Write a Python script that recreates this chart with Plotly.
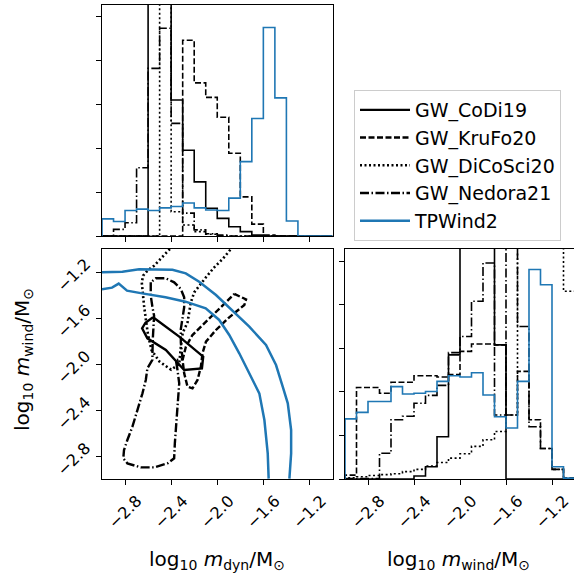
import plotly.graph_objects as go

# ---------------- data ----------------
BIN_EDGES = [-3.0, -2.9, -2.8, -2.7, -2.6, -2.5, -2.4, -2.3, -2.2, -2.1, -2.0,
             -1.9, -1.8, -1.7, -1.6, -1.5, -1.4, -1.3, -1.2, -1.1, -1.0]

# marginal histograms of log10 m_dyn (top panel); values above the axis top are clipped peaks
MDYN_CODI19 = [0, 0, 0, 0, 8, 8, 3.09, 1.95, 1.23, 0.63, 0.40, 0.21, 0.10, 0.02, 0, 0, 0, 0, 0, 0]
MDYN_KRUFO20 = [0, 0, 0, 0, 0, 0, 0, 4.45, 3.48, 3.15, 2.70, 1.88, 0.89, 0.27, 0.02, 0, 0, 0, 0, 0]
MDYN_DICOSCI20 = [0, 0, 0, 0, 0, 8, 0.55, 0.25, 0.10, 0.04, 0, 0, 0, 0, 0, 0, 0, 0, 0, 0]
MDYN_NEDORA21 = [0, 0.15, 0.30, 1.55, 3.81, 4.72, 2.56, 0.52, 0.14, 0.05, 0.02, 0, 0, 0, 0, 0, 0, 0, 0, 0]
MDYN_TPWIND2 = [0.39, 0.33, 0.58, 0.61, 0.58, 0.64, 0.67, 0.75, 0.64, 0.59, 0.58, 0.86, 1.69, 2.67,
                4.74, 3.14, 0.34, 0, 0, 0]

# marginal histograms of log10 m_wind (right panel)
MWIND_CODI19 = [0, 0, 0, 0, 0, 0, 0.07, 0.28, 0.97, 2.85, 8, 8, 8, 3.08, 0, 0, 0, 0, 0, 0]
MWIND_KRUFO20 = [0.09, 2.10, 2.10, 1.97, 2.22, 2.22, 2.37, 2.37, 2.34, 2.40, 2.93, 3.10, 3.10, 3.08,
                 1.47, 2.47, 1.36, 0.70, 0.22, 0.02]
MWIND_DICOSCI20 = [0.03, 0.05, 0.08, 0.10, 0.12, 0.17, 0.22, 0.30, 0.38, 0.48, 0.58, 0.75, 0.90, 1.09,
                   1.47, 8, 8, 8, 8, 4.31]
MWIND_NEDORA21 = [0.01, 0.01, 0.01, 0.59, 1.36, 1.44, 1.74, 1.92, 2.15, 2.90, 3.27, 4.08, 4.96, 1.47,
                  8, 3.50, 1.20, 0.70, 0.22, 0.02]
MWIND_TPWIND2 = [1.38, 1.53, 1.78, 1.78, 2.12, 1.95, 1.97, 2.01, 2.24, 2.37, 2.34, 2.44, 1.93, 1.43,
                 1.17, 2.24, 4.81, 4.46, 0.28, 0.02]

# 2D credible contours (log10 m_dyn, log10 m_wind)
CONT_CODI19_X = [-2.557, -2.330, -2.122, -2.133, -2.287, -2.446, -2.606, -2.652, -2.623]
CONT_CODI19_Y = [-1.594, -1.762, -1.936, -2.038, -2.052, -1.878, -1.777, -1.690, -1.641]

CONT_KRUFO20_X = [-1.852, -1.750, -1.765, -1.896, -2.011, -2.098, -2.128, -2.142, -2.171, -2.215,
                  -2.258, -2.287, -2.301, -2.272, -2.215, -2.128, -2.011, -1.910]
CONT_KRUFO20_Y = [-1.391, -1.438, -1.487, -1.594, -1.704, -1.806, -1.907, -2.023, -2.139, -2.212,
                  -2.197, -2.081, -1.965, -1.849, -1.748, -1.661, -1.545, -1.443]

CONT_DICOSCI20_X = [-2.411, -2.475, -2.548, -2.606, -2.643, -2.655, -2.649, -2.635, -2.620, -2.600,
                    -2.570, -2.500, -2.400, -2.330, -2.316, -2.300, -2.258, -2.243, -2.229, -2.200,
                    -2.156, -2.098, -2.026, -1.953, -1.881]
CONT_DICOSCI20_Y = [-1.000, -1.072, -1.145, -1.188, -1.232, -1.290, -1.377, -1.493, -1.609, -1.750,
                    -1.880, -1.980, -2.050, -2.000, -1.850, -1.730, -1.638, -1.551, -1.464, -1.377,
                    -1.319, -1.246, -1.159, -1.087, -1.000]

CONT_NEDORA21_X = [-2.577, -2.577, -2.562, -2.548, -2.560, -2.563, -2.606, -2.620, -2.649, -2.693,
                   -2.736, -2.780, -2.809, -2.815, -2.780, -2.664, -2.548, -2.432, -2.374, -2.368,
                   -2.359, -2.345, -2.339, -2.330, -2.345, -2.359, -2.301, -2.316, -2.316, -2.301,
                   -2.287, -2.287, -2.316, -2.374, -2.446, -2.533]
CONT_NEDORA21_Y = [-1.290, -1.406, -1.507, -1.580, -1.800, -1.965, -2.037, -2.139, -2.255, -2.400,
                   -2.545, -2.661, -2.748, -2.820, -2.864, -2.899, -2.899, -2.864, -2.820, -2.690,
                   -2.574, -2.400, -2.284, -2.168, -2.052, -1.965, -1.957, -1.812, -1.696, -1.594,
                   -1.507, -1.420, -1.348, -1.290, -1.255, -1.255]

CONT_TPWIND2_OUTER_X = [-3.000, -2.823, -2.678, -2.389, -2.273, -2.157, -2.011, -1.867, -1.722,
                        -1.577, -1.490, -1.432, -1.388, -1.359, -1.359, -1.374]
CONT_TPWIND2_OUTER_Y = [-1.203, -1.197, -1.177, -1.181, -1.212, -1.284, -1.400, -1.536, -1.675,
                        -1.835, -2.009, -2.197, -2.342, -2.574, -2.777, -2.997]
CONT_TPWIND2_INNER_X = [-3.000, -2.913, -2.855, -2.783, -2.652, -2.449, -2.275, -2.100, -1.983,
                        -1.896, -1.809, -1.722, -1.635, -1.591, -1.562, -1.554]
CONT_TPWIND2_INNER_Y = [-1.351, -1.336, -1.301, -1.362, -1.386, -1.420, -1.458, -1.516, -1.617,
                        -1.748, -1.907, -2.081, -2.255, -2.487, -2.777, -2.997]

TICK_VALS = [-2.8, -2.4, -2.0, -1.6, -1.2]
TICK_TEXT = ["\u22122.8", "\u22122.4", "\u22122.0", "\u22121.6", "\u22121.2"]
HIST_TICKS = [0, 1, 2, 3, 4, 5]

NAMES = ["GW_CoDi19", "GW_KruFo20", "GW_DiCoSci20", "GW_Nedora21", "TPWind2"]

# ---------------- styling ----------------
BLUE = "#1f77b4"
STYLE = {
    "GW_CoDi19": ("black", "solid"),
    "GW_KruFo20": ("black", "6px,2.5px"),
    "GW_DiCoSci20": ("black", "2px,2.5px"),
    "GW_Nedora21": ("black", "9px,2.5px,1.5px,2.5px"),
    "TPWind2": (BLUE, "solid"),
}
CONT_WIDTH = {"GW_CoDi19": 2.4, "GW_KruFo20": 2.4, "GW_DiCoSci20": 2.6, "GW_Nedora21": 2.4,
              "TPWind2": 2.5}

W, H = 574, 573
FONT = "DejaVu Sans"


def step_xy(edges, heights):
    xs, ys = [edges[0]], [0]
    for i, h in enumerate(heights):
        xs += [edges[i], edges[i + 1]]
        ys += [h, h]
    xs.append(edges[-1])
    ys.append(0)
    return xs, ys


def closed(a):
    return list(a) + [a[0]]


fig = go.Figure()

mdyn = dict(zip(NAMES, [MDYN_CODI19, MDYN_KRUFO20, MDYN_DICOSCI20, MDYN_NEDORA21, MDYN_TPWIND2]))
mwind = dict(zip(NAMES, [MWIND_CODI19, MWIND_KRUFO20, MWIND_DICOSCI20, MWIND_NEDORA21, MWIND_TPWIND2]))

for n in NAMES:
    col, dash = STYLE[n]
    x, y = step_xy(BIN_EDGES, mdyn[n])
    fig.add_trace(go.Scatter(x=x, y=y, mode="lines", line=dict(color=col, dash=dash, width=1.6),
                             xaxis="x", yaxis="y", showlegend=False, hoverinfo="skip"))
    x, y = step_xy(BIN_EDGES, mwind[n])
    fig.add_trace(go.Scatter(x=x, y=y, mode="lines", line=dict(color=col, dash=dash, width=1.6),
                             xaxis="x3", yaxis="y3", showlegend=False, hoverinfo="skip"))

contours = [
    ("GW_CoDi19", closed(CONT_CODI19_X), closed(CONT_CODI19_Y), True),
    ("GW_KruFo20", closed(CONT_KRUFO20_X), closed(CONT_KRUFO20_Y), True),
    ("GW_DiCoSci20", CONT_DICOSCI20_X, CONT_DICOSCI20_Y, True),
    ("GW_Nedora21", closed(CONT_NEDORA21_X), closed(CONT_NEDORA21_Y), True),
    ("TPWind2", CONT_TPWIND2_OUTER_X, CONT_TPWIND2_OUTER_Y, True),
    ("TPWind2", CONT_TPWIND2_INNER_X, CONT_TPWIND2_INNER_Y, False),
]
for n, cx, cy, leg in contours:
    col, dash = STYLE[n]
    fig.add_trace(go.Scatter(x=cx, y=cy, mode="lines", name=n,
                             line=dict(color=col, dash=dash, width=CONT_WIDTH[n]),
                             xaxis="x2", yaxis="y2", showlegend=leg, legendgroup=n,
                             legendrank=NAMES.index(n) + 1, hoverinfo="skip"))

# ---------------- layout ----------------
col1 = [102 / W, 332.5 / W]
col2 = [345 / W, 1.0]
row1 = [1 - 236 / H, 1 - 5 / H]
row2 = [1 - 479 / H, 1 - 249 / H]

axis_common = dict(showline=True, linecolor="black", linewidth=1.2, ticks="outside", ticklen=5,
                   tickwidth=1.2, tickcolor="black", showgrid=False, zeroline=False,
                   tickfont=dict(family=FONT, size=16, color="black"))

fig.update_layout(
    width=W, height=H, autosize=False,
    margin=dict(l=0, r=0, t=0, b=0, pad=0),
    paper_bgcolor="white", plot_bgcolor="white",
    showlegend=True,
    xaxis=dict(domain=col1, anchor="y", range=[-3, -1], tickvals=TICK_VALS, showticklabels=False,
               mirror=True, **axis_common),
    yaxis=dict(domain=row1, anchor="x", range=[0, 5.25], tickvals=HIST_TICKS, showticklabels=False,
               mirror=True, **axis_common),
    xaxis2=dict(domain=col1, anchor="y2", range=[-3, -1], tickvals=TICK_VALS, ticktext=TICK_TEXT,
                tickangle=-45, mirror=True, ticklabelshift=12, **axis_common),
    yaxis2=dict(domain=row2, anchor="x2", range=[-3, -1], tickvals=TICK_VALS, ticktext=TICK_TEXT,
                tickangle=-45, mirror=True, ticklabelshift=-10, ticklabelstandoff=7, **axis_common),
    xaxis3=dict(domain=col2, anchor="y3", range=[-3, -3 + 229 / 115], tickvals=TICK_VALS,
                ticktext=TICK_TEXT, tickangle=-45, mirror=True, ticklabelshift=12, **axis_common),
    yaxis3=dict(domain=row2, anchor="x3", range=[0, 5.28], tickvals=HIST_TICKS, showticklabels=False,
                mirror=False, **axis_common),
    legend=dict(x=354 / W, y=1 - 90 / H, xanchor="left", yanchor="top",
                font=dict(family=FONT, size=19, color="black"),
                bordercolor="#cccccc", borderwidth=1, bgcolor="white",
                itemwidth=50, tracegroupgap=0, traceorder="grouped"),
    annotations=[
        dict(text="log<sub>10</sub> <i>m</i><sub>dyn</sub>/M<sub>\u2299</sub>", x=217 / W, y=1 - 560 / H,
             xref="paper", yref="paper", showarrow=False, xanchor="center", yanchor="middle",
             font=dict(family=FONT, size=20, color="black")),
        dict(text="log<sub>10</sub> <i>m</i><sub>wind</sub>/M<sub>\u2299</sub>", x=458 / W, y=1 - 560 / H,
             xref="paper", yref="paper", showarrow=False, xanchor="center", yanchor="middle",
             font=dict(family=FONT, size=20, color="black")),
        dict(text="log<sub>10</sub> <i>m</i><sub>wind</sub>/M<sub>\u2299</sub>", x=23 / W, y=1 - 360 / H,
             xref="paper", yref="paper", showarrow=False, xanchor="center", yanchor="middle",
             textangle=-90, font=dict(family=FONT, size=20, color="black")),
    ],
)

fig.write_html("out.html", config={"displayModeBar": False})
